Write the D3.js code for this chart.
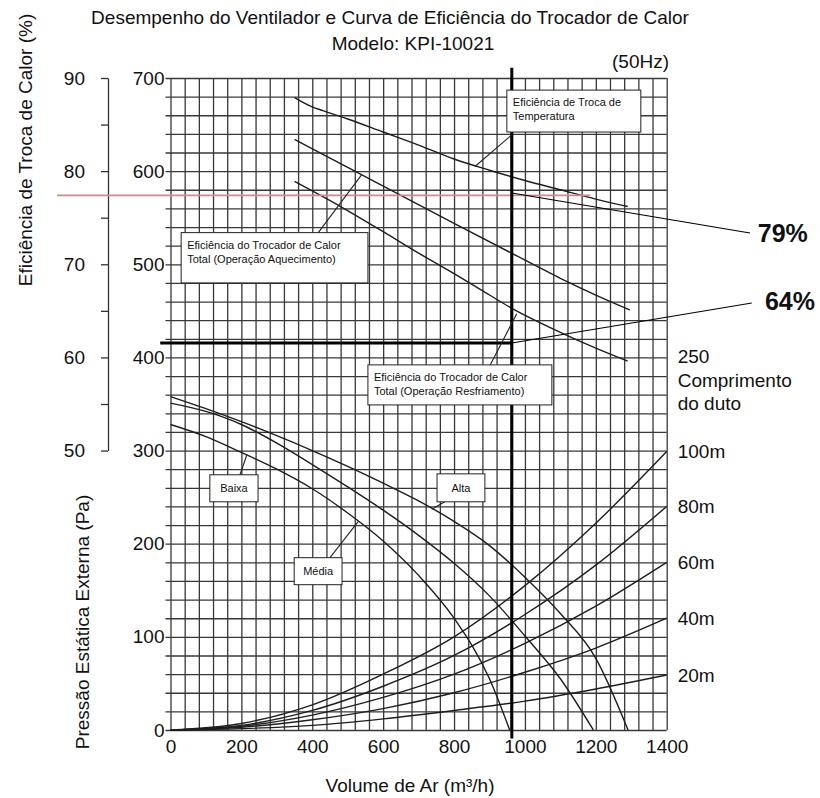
<!DOCTYPE html>
<html>
<head>
<meta charset="utf-8">
<script src="https://cdn.jsdelivr.net/npm/d3@7"></script>
<style>
body { margin: 0; background: #fff; }
svg { font-family: "Liberation Sans", Arial, sans-serif; }
.grid line { stroke: #383838; stroke-width: 1.3; }
.grid path { stroke-width: 0; }
.curve { fill: none; stroke: #1e1e1e; stroke-width: 1.4; }
.axis path, .axis line { stroke: #333; }
.box rect { fill: #fff; stroke: #222; stroke-width: 1; }
.box text { font-size: 11px; fill: #111; }
</style>
</head>
<body>
<div id="chart"></div>
<script>

var width = 820;
var height = 798;

// ticks
var flowTicks = [0, 200, 400, 600, 800, 1000, 1200, 1400];
var pressureTicks = [0, 100, 200, 300, 400, 500, 600, 700];
var effTicks = [50, 55, 60, 65, 70, 75, 80, 85, 90];

// fan curves [flow m3/h, pressure Pa]
var fanAlta = [[0,358],[100,345],[200,331],[300,316],[400,300],[500,283],[600,265],[700,246],[800,224],[900,198],[1000,164],[1100,125],[1200,77],[1291,0]];
var fanMedia = [[0,351],[100,342],[200,328],[300,308],[400,285],[500,261],[600,236],[700,209],[800,179],[900,144],[1000,101],[1100,55],[1193,0]];
var fanBaixa = [[0,328],[100,315],[200,298],[300,280],[400,259],[500,233],[600,203],[700,166],[800,120],[900,55],[957,0]];

// duct resistance curves
var ductFlow = [0, 200, 400, 600, 800, 1000, 1200, 1400];
var ductNames = ["20m", "40m", "60m", "80m", "100m"];
var duct20 = [0, 1.5, 5, 12, 21, 31, 44, 59];
var duct40 = [0, 3, 11, 23, 40, 62, 88, 120];
var duct60 = [0, 4, 16, 35, 60, 93, 133, 180];
var duct80 = [0, 5, 21, 47, 80, 124, 177, 240];
var duct100 = [0, 7, 27, 60, 100, 155, 222, 299];

// efficiency curves [flow, %]
var effTemp = [[350,87.9],[400,86.9],[430,86.5],[500,85.6],[600,84.2],[700,82.8],[800,81.3],[900,80.1],[1000,79.0],[1100,78.0],[1200,77.0],[1290,76.2]];
var effHeat = [[350,83.4],[500,80.4],[650,77.4],[800,74.4],[962,71.2],[1100,68.5],[1200,66.7],[1296,65.1]];
var effCool = [[350,78.9],[480,76.2],[600,73.5],[700,71.2],[800,69.0],[900,66.7],[962,65.3],[1100,62.7],[1200,61.0],[1290,59.6]];

// operating point + marker lines
var selFlow = 963;
var selPressure = 415.5;
var redEff = 77.4;
var redFrom = -320, redTo = 1184;
var note79 = {from: [963, 576.5], to: [1635, 533.6], text: "79%", at: [1657, 524]};
var note64 = {from: [963, 415.5], to: [1640, 458.4], text: "64%", at: [1677, 451]};

// label boxes, corners in data coords, leader from -> to
var labels = [
  {lines: ["Eficiência de Troca de", "Temperatura"], q1: 949, p1: 687, q2: 1327, p2: 642, lead: [[963, 639], [859, 605]]},
  {lines: ["Eficiência do Trocador de Calor", "Total (Operação Aquecimento)"], q1: 30, p1: 534, q2: 557, p2: 480, lead: [[417, 534], [539, 596]]},
  {lines: ["Eficiência do Trocador de Calor", "Total (Operação Resfriamento)"], q1: 557, p1: 392, q2: 1076, p2: 349, lead: [[902, 392], [977, 447]]},
  {lines: ["Baixa"], q1: 111, p1: 274, q2: 247, p2: 245, lead: [[196, 274], [215, 295]]},
  {lines: ["Média"], q1: 349, p1: 185, q2: 484, p2: 156, lead: [[450, 185], [530, 224]]},
  {lines: ["Alta"], q1: 752, p1: 275, q2: 887, p2: 245, lead: [[774, 245], [737, 237]]}
];

var svg = d3.select("#chart")
  .append("svg")
    .attr("width", width)
    .attr("height", height);

var x = d3.scaleLinear().domain([0, 1400]).range([170.5, 666.7]);
var y = d3.scaleLinear().domain([0, 700]).range([730, 78]);
var yEff = d3.scaleLinear().domain([50, 90]).range([y(300), y(700)]);

// grid
svg.append("g")
    .attr("class", "grid")
    .attr("transform", `translate(${x(0) - 5},0)`)
    .call(d3.axisLeft(y)
        .tickValues(d3.range(0, 701, 20))
        .tickSize(-(x(1400) - x(0) + 5))
        .tickFormat(""));

svg.append("g")
    .attr("class", "grid")
    .attr("transform", `translate(0,${y(0)})`)
    .call(d3.axisBottom(x)
        .tickValues(d3.range(0, 1401, 40))
        .tickSize(-(y(0) - y(700)))
        .tickFormat(""));

// pressure axis labels
svg.append("g")
    .attr("transform", `translate(${x(0)},0)`)
    .call(d3.axisLeft(y).tickValues(pressureTicks).tickSize(0).tickPadding(6).tickFormat(d => d))
    .call(g => g.select(".domain").remove())
    .selectAll("text").attr("font-size", 19).attr("font-family", null).attr("fill", "#111");

// flow axis labels
svg.append("g")
    .attr("transform", `translate(0,${y(0)})`)
    .call(d3.axisBottom(x).tickValues(flowTicks).tickSize(0).tickPadding(10).tickFormat(d => d))
    .call(g => g.select(".domain").remove())
    .selectAll("text").attr("font-size", 19).attr("font-family", null).attr("fill", "#111");

// efficiency axis
var effAxis = svg.append("g")
    .attr("class", "axis")
    .attr("transform", "translate(108,0)")
    .call(d3.axisLeft(yEff)
        .tickValues(effTicks)
        .tickSize(7)
        .tickSizeOuter(0)
        .tickPadding(16)
        .tickFormat(d => d % 10 === 0 ? d : ""));
effAxis.selectAll("text").attr("font-size", 19).attr("font-family", null).attr("fill", "#111");
effAxis.selectAll("line, path").attr("stroke-width", 1.3);

// curves
var pLine = d3.line()
    .x(d => x(d[0]))
    .y(d => y(d[1]))
    .curve(d3.curveMonotoneX);
var eLine = d3.line()
    .x(d => x(d[0]))
    .y(d => yEff(d[1]))
    .curve(d3.curveMonotoneX);

var ducts = [duct20, duct40, duct60, duct80, duct100];
svg.selectAll("path.duct")
    .data(ducts)
    .enter().append("path")
    .attr("class", "curve duct")
    .attr("d", d => pLine(d.map((v, i) => [ductFlow[i], v])));

svg.selectAll("path.fan")
    .data([fanAlta, fanMedia, fanBaixa])
    .enter().append("path")
    .attr("class", "curve fan")
    .attr("d", pLine);

svg.selectAll("path.eff")
    .data([effTemp, effHeat, effCool])
    .enter().append("path")
    .attr("class", "curve eff")
    .attr("d", eLine);

// red reference line
svg.append("line")
    .attr("stroke", "#d08a8a")
    .attr("stroke-width", 1.6)
    .attr("x1", x(redFrom)).attr("x2", x(redTo))
    .attr("y1", yEff(redEff)).attr("y2", yEff(redEff));

// operating point lines
svg.append("line")
    .attr("stroke", "#000").attr("stroke-width", 3)
    .attr("x1", x(selFlow)).attr("x2", x(selFlow))
    .attr("y1", y(711)).attr("y2", y(-9));
svg.append("line")
    .attr("stroke", "#000").attr("stroke-width", 3)
    .attr("x1", x(-29)).attr("x2", x(selFlow))
    .attr("y1", y(selPressure)).attr("y2", y(selPressure));

// notes 79% / 64%
[note79, note64].forEach(n => {
  svg.append("line")
      .attr("stroke", "#000").attr("stroke-width", 1.1)
      .attr("x1", x(n.from[0])).attr("y1", y(n.from[1]))
      .attr("x2", x(n.to[0])).attr("y2", y(n.to[1]));
  svg.append("text")
      .attr("x", x(n.at[0])).attr("y", y(n.at[1]))
      .attr("font-size", 25).attr("font-weight", "bold")
      .attr("fill", "#111")
      .text(n.text);
});

// label boxes + leaders
labels.forEach(l => {
  var g = svg.append("g").attr("class", "box");
  g.append("line")
      .attr("stroke", "#222").attr("stroke-width", 1.1)
      .attr("x1", x(l.lead[0][0])).attr("y1", y(l.lead[0][1]))
      .attr("x2", x(l.lead[1][0])).attr("y2", y(l.lead[1][1]));
  var bx = x(l.q1), by = y(l.p1), bw = x(l.q2) - x(l.q1), bh = y(l.p2) - y(l.p1);
  g.append("rect")
      .attr("x", bx).attr("y", by).attr("width", bw).attr("height", bh);
  var single = l.lines.length === 1;
  g.selectAll("text.l")
      .data(l.lines)
      .enter().append("text")
      .attr("x", single ? bx + bw / 2 : bx + 6)
      .attr("text-anchor", single ? "middle" : "start")
      .attr("y", (d, i) => single ? by + bh / 2 + 4 : by + 16 + i * 14)
      .text(d => d);
});

// duct length labels
svg.selectAll("text.duct")
    .data(ducts)
    .enter().append("text")
    .attr("x", x(1400) + 11)
    .attr("y", d => y(d[d.length - 1]))
    .attr("dy", "0.35em")
    .attr("font-size", 19)
    .attr("fill", "#111")
    .text((d, i) => ductNames[i]);

svg.selectAll("text.ductTitle")
    .data(["250", "Comprimento", "do duto"])
    .enter().append("text")
    .attr("x", x(1400) + 11)
    .attr("y", (d, i) => y(394) + i * 23.5)
    .attr("font-size", 19)
    .attr("fill", "#111")
    .text(d => d);

// titles
svg.append("text")
    .attr("x", 390).attr("y", 24)
    .attr("text-anchor", "middle")
    .attr("font-size", 19).attr("fill", "#111")
    .text("Desempenho do Ventilador e Curva de Eficiência do Trocador de Calor");
svg.append("text")
    .attr("x", 413).attr("y", 50)
    .attr("text-anchor", "middle")
    .attr("font-size", 19).attr("fill", "#111")
    .text("Modelo: KPI-10021");
svg.append("text")
    .attr("x", 612).attr("y", 68)
    .attr("font-size", 19).attr("fill", "#111")
    .text("(50Hz)");

svg.append("text")
    .attr("transform", "translate(25,150) rotate(-90)")
    .attr("text-anchor", "middle")
    .attr("dy", "0.35em")
    .attr("font-size", 19).attr("fill", "#111")
    .text("Eficiência de Troca de Calor (%)");
svg.append("text")
    .attr("transform", "translate(82,622) rotate(-90)")
    .attr("text-anchor", "middle")
    .attr("dy", "0.35em")
    .attr("font-size", 19).attr("fill", "#111")
    .text("Pressão Estática Externa (Pa)");
svg.append("text")
    .attr("x", 410).attr("y", 792)
    .attr("text-anchor", "middle")
    .attr("font-size", 19).attr("fill", "#111")
    .text("Volume de Ar (m³/h)");

</script>
</body>
</html>
